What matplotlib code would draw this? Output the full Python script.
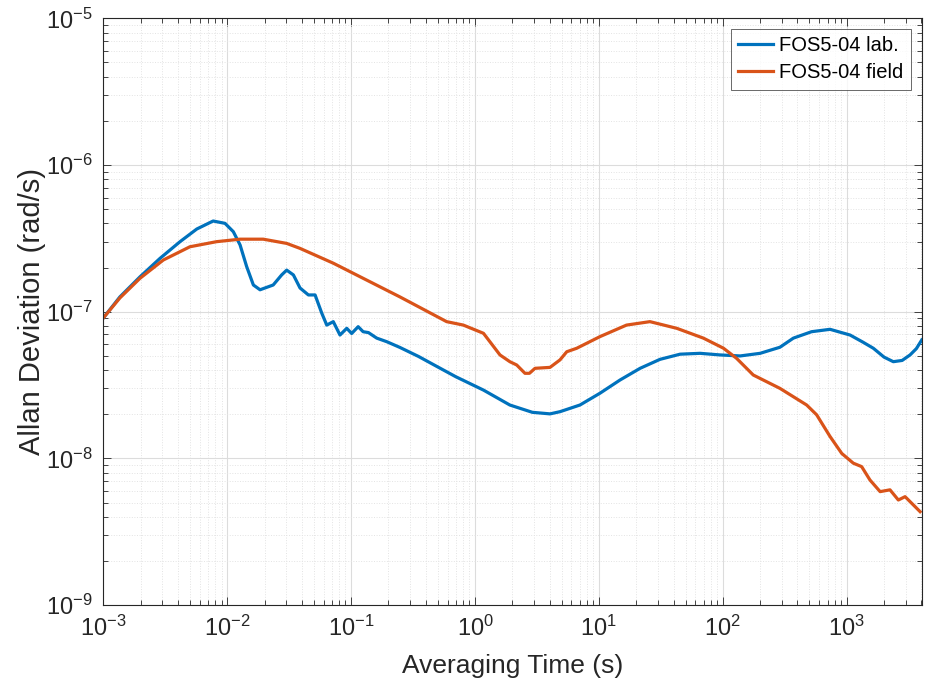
import matplotlib
matplotlib.use("Agg")
import matplotlib.pyplot as plt
from matplotlib.ticker import LogLocator, NullFormatter

plt.rcParams['font.family'] = ['Liberation Sans', 'DejaVu Sans']
plt.rcParams['mathtext.fontset'] = 'custom'
plt.rcParams['mathtext.rm'] = 'Liberation Sans'
plt.rcParams['mathtext.it'] = 'Liberation Sans'
plt.rcParams['axes.unicode_minus'] = False

# ---- data ----
lab_tau = [1.0e-3, 1.36e-3, 1.98e-3, 2.87e-3, 4.16e-3, 5.68e-3, 7.7e-3, 9.6e-3, 0.0112, 0.0127,
           0.01435, 0.01626, 0.0184, 0.0235, 0.0275, 0.0302, 0.0342, 0.0387, 0.0452, 0.0512,
           0.058, 0.0636, 0.0718, 0.0813, 0.0922, 0.101, 0.114, 0.125, 0.138, 0.161, 0.194,
           0.248, 0.35, 0.5, 0.7, 1.17, 1.91, 2.9, 4.03, 4.85, 7.03, 10.2, 14.8, 21.5, 31.1,
           45.2, 65.5, 94.9, 138.0, 200.0, 289.0, 371.0, 520.0, 733.0, 1064.0, 1350.0, 1640.0,
           2000.0, 2377.0, 2800.0, 3245.0, 3650.0, 4030.0]
lab_adev = [9.06e-8, 1.26e-7, 1.73e-7, 2.31e-7, 3.0e-7, 3.66e-7, 4.15e-7, 4.0e-7, 3.51e-7, 2.85e-7,
            2.03e-7, 1.52e-7, 1.41e-7, 1.52e-7, 1.78e-7, 1.92e-7, 1.78e-7, 1.45e-7, 1.30e-7, 1.30e-7,
            9.75e-8, 8.1e-8, 8.55e-8, 6.93e-8, 7.7e-8, 7.1e-8, 7.9e-8, 7.3e-8, 7.2e-8, 6.6e-8, 6.24e-8,
            5.7e-8, 4.95e-8, 4.2e-8, 3.6e-8, 2.92e-8, 2.31e-8, 2.06e-8, 2.01e-8, 2.08e-8, 2.31e-8, 2.78e-8, 3.42e-8, 4.11e-8, 4.73e-8,
            5.13e-8, 5.2e-8, 5.07e-8, 4.99e-8, 5.2e-8, 5.72e-8, 6.6e-8, 7.3e-8, 7.58e-8, 6.93e-8, 6.2e-8, 5.63e-8,
            4.9e-8, 4.56e-8, 4.65e-8, 5.07e-8, 5.6e-8, 6.41e-8]

field_tau = [1.0e-3, 1.36e-3, 1.98e-3, 3.05e-3, 5.0e-3, 8.2e-3, 0.0127, 0.01954, 0.0302, 0.0387,
             0.0718, 0.248, 0.59, 0.805, 1.17, 1.59, 1.91, 2.17, 2.53, 2.75, 3.05, 4.03, 4.85,
             5.5, 6.62, 10.2, 16.7, 25.8, 42.5, 69.7, 101.0, 129.0, 176.0, 289.0, 475.0, 572.0,
             733.0, 912.0, 1130.0, 1320.0, 1540.0, 1860.0, 2235.0, 2610.0, 2958.0, 3910.0]
field_adev = [9.06e-8, 1.24e-7, 1.69e-7, 2.25e-7, 2.77e-7, 3.0e-7, 3.12e-7, 3.12e-7, 2.92e-7, 2.7e-7,
              2.14e-7, 1.26e-7, 8.55e-8, 8.1e-8, 7.12e-8, 5.07e-8, 4.56e-8, 4.33e-8, 3.8e-8, 3.8e-8,
              4.11e-8, 4.17e-8, 4.69e-8, 5.33e-8, 5.63e-8, 6.76e-8, 8.1e-8, 8.55e-8, 7.7e-8, 6.6e-8,
              5.64e-8, 4.81e-8, 3.7e-8, 3.0e-8, 2.31e-8, 1.98e-8, 1.41e-8, 1.08e-8, 9.27e-9,
              8.78e-9, 7.12e-9, 5.93e-9, 6.1e-9, 5.2e-9, 5.48e-9, 4.33e-9]

labels = ['FOS5-04 lab.', 'FOS5-04 field']
colors = ['#0072BD', '#D95319']

fig = plt.figure(figsize=(9.35, 6.88), dpi=100)
ax = fig.add_axes([0.1105, 0.1206, 0.8753, 0.8528])

ax.plot(lab_tau, lab_adev, color=colors[0], lw=2.3, label=labels[0], solid_joinstyle='round')
ax.plot(field_tau, field_adev, color=colors[1], lw=2.3, label=labels[1], solid_joinstyle='round')

ax.set_xscale('log')
ax.set_yscale('log')
ax.set_xlim(1e-3, 4.03e3)
ax.set_ylim(1e-9, 1e-5)

ax.xaxis.set_major_locator(LogLocator(base=10, numticks=20))
ax.xaxis.set_minor_locator(LogLocator(base=10, subs=range(2, 10), numticks=100))
ax.yaxis.set_major_locator(LogLocator(base=10, numticks=20))
ax.yaxis.set_minor_locator(LogLocator(base=10, subs=range(2, 10), numticks=100))
ax.xaxis.set_minor_formatter(NullFormatter())
ax.yaxis.set_minor_formatter(NullFormatter())

ax.grid(True, which='major', color='#dcdcdc', lw=0.8, ls='-')
ax.grid(True, which='minor', color='#e3e3e3', lw=0.7, ls=':')
ax.set_axisbelow(True)

for s in ax.spines.values():
    s.set_color('#262626')
    s.set_linewidth(0.8)

ax.tick_params(which='both', direction='in', top=True, right=True, colors='#262626',
               labelsize=17, width=0.6)
ax.tick_params(which='major', length=6, pad=8)
ax.tick_params(which='minor', length=3.5)

ax.set_xlabel('Averaging Time (s)', fontsize=19, color='#262626', labelpad=9)
ax.set_ylabel('Allan Deviation (rad/s)', fontsize=21, color='#262626', labelpad=0)

leg = ax.legend(loc='upper right', fontsize=14.5, frameon=True, fancybox=False,
                edgecolor='#262626', borderpad=0.35, handlelength=1.75,
                handletextpad=0.3, labelspacing=0.4, borderaxespad=0.55)
leg.get_frame().set_linewidth(0.6)

fig.savefig('out.png', dpi=100)
